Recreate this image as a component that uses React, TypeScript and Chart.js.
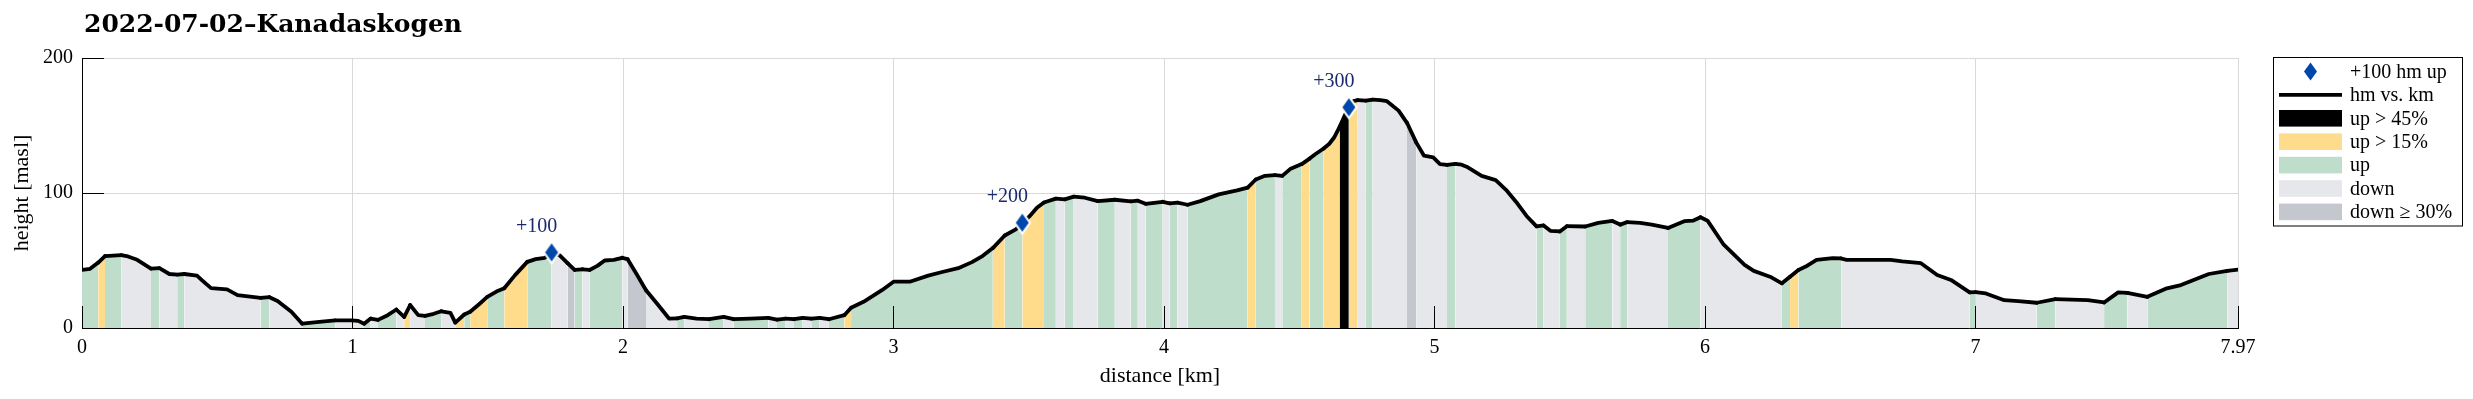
import { useEffect, useRef } from 'react';
import { Chart, registerables } from 'chart.js';

Chart.register(...registerables);

// ---------- data ----------
const distanceKm = [
  0.000, 0.030, 0.060, 0.085, 0.115, 0.145, 0.170, 0.204, 0.255, 0.286,
  0.323, 0.352, 0.378, 0.425, 0.443, 0.477, 0.536, 0.575, 0.660, 0.693,
  0.723, 0.774, 0.814, 0.877, 0.936, 0.996, 1.021, 1.043, 1.067, 1.094,
  1.130, 1.162, 1.191, 1.213, 1.243, 1.268, 1.300, 1.328, 1.362, 1.380,
  1.413, 1.435, 1.470, 1.498, 1.532, 1.561, 1.600, 1.646, 1.677, 1.711,
  1.736, 1.765, 1.795, 1.821, 1.850, 1.876, 1.905, 1.932, 1.966, 1.997,
  2.017, 2.050, 2.085, 2.130, 2.170, 2.200, 2.226, 2.272, 2.318, 2.372,
  2.409, 2.470, 2.537, 2.569, 2.601, 2.632, 2.664, 2.696, 2.727, 2.761,
  2.818, 2.843, 2.889, 2.957, 3.000, 3.060, 3.128, 3.180, 3.239, 3.290,
  3.330, 3.367, 3.411, 3.452, 3.476, 3.503, 3.530, 3.556, 3.600, 3.633,
  3.666, 3.707, 3.755, 3.818, 3.877, 3.903, 3.932, 3.995, 4.021, 4.050,
  4.087, 4.134, 4.202, 4.270, 4.309, 4.339, 4.373, 4.410, 4.437, 4.466,
  4.509, 4.538, 4.560, 4.590, 4.611, 4.630, 4.649, 4.683, 4.700, 4.716,
  4.746, 4.771, 4.800, 4.824, 4.867, 4.898, 4.932, 4.961, 4.995, 5.020,
  5.046, 5.077, 5.100, 5.123, 5.174, 5.226, 5.268, 5.307, 5.340, 5.377,
  5.403, 5.428, 5.463, 5.489, 5.557, 5.605, 5.657, 5.686, 5.712, 5.760,
  5.803, 5.863, 5.923, 5.957, 5.983, 6.009, 6.069, 6.146, 6.180, 6.240,
  6.284, 6.314, 6.345, 6.372, 6.412, 6.472, 6.503, 6.523, 6.686, 6.729,
  6.798, 6.858, 6.909, 6.978, 7.000, 7.038, 7.106, 7.158, 7.226, 7.295,
  7.415, 7.475, 7.527, 7.561, 7.635, 7.707, 7.759, 7.862, 7.930, 7.970,
];

const heightM = [
  43.0, 43.8, 48.5, 53.3, 53.6, 54.0, 53.0, 50.5, 44.0, 44.3,
  40.0, 39.6, 40.0, 38.8, 35.5, 29.5, 28.6, 24.4, 22.3, 22.8,
  20.0, 12.0, 3.2, 4.5, 5.7, 5.6, 5.3, 3.2, 7.0, 6.0,
  9.5, 13.7, 8.2, 17.0, 9.5, 9.0, 10.5, 12.4, 11.2, 4.0,
  10.0, 12.0, 18.0, 23.0, 27.0, 29.5, 39.0, 49.0, 51.0, 52.0,
  55.5, 54.0, 48.0, 43.0, 43.5, 43.0, 46.0, 50.0, 50.5, 52.0,
  51.0, 40.0, 28.0, 17.0, 7.0, 7.2, 8.2, 7.0, 6.5, 8.2,
  6.5, 7.0, 7.5, 6.2, 7.0, 6.5, 7.5, 7.0, 7.5, 6.5,
  9.5, 15.0, 19.4, 28.0, 34.3, 34.3, 38.8, 41.5, 44.3, 48.8,
  53.5, 59.2, 68.5, 73.0, 77.5, 82.8, 89.0, 93.0, 95.8, 95.3,
  97.3, 96.5, 94.0, 95.0, 93.8, 94.3, 92.0, 93.5, 92.3, 92.8,
  91.3, 94.0, 99.0, 102.0, 104.0, 110.0, 112.7, 113.2, 112.7, 117.7,
  121.4, 125.5, 128.9, 133.0, 136.5, 141.5, 149.0, 164.0, 168.0, 168.8,
  168.4, 169.2, 168.8, 168.0, 161.0, 152.0, 137.5, 127.6, 126.4, 121.4,
  120.8, 121.6, 121.0, 119.0, 112.7, 109.5, 101.5, 92.0, 83.0, 75.3,
  76.0, 72.0, 71.5, 75.4, 75.2, 77.9, 79.3, 76.6, 78.4, 77.9,
  76.6, 74.1, 79.1, 79.6, 82.0, 79.5, 61.7, 46.8, 42.3, 38.0,
  33.1, 38.0, 43.0, 45.5, 50.5, 51.7, 51.5, 50.5, 50.5, 49.3,
  48.0, 39.3, 35.6, 26.4, 26.6, 25.6, 20.6, 19.9, 18.7, 21.4,
  20.6, 18.9, 26.4, 26.0, 23.1, 29.4, 31.8, 40.0, 42.3, 43.2,
];

// slope class of the segment that starts at each point (point i -> i+1):
// u = up, y = up > 15%, b = up > 45%, d = down, s = down >= 30%
const slopeClass = [
  'u', 'u', 'y', 'u', 'u', 'd', 'd', 'd', 'u', 'd',
  'd', 'u', 'd', 'd', 'd', 'd', 'd', 'd', 'u', 'd',
  'd', 'd', 'u', 'u', 'd', 'd', 'd', 'u', 'd', 'u',
  'u', 'd', 'y', 'd', 'd', 'u', 'u', 'd', 'd', 'y',
  'u', 'y', 'y', 'u', 'u', 'y', 'y', 'u', 'u', 'u',
  'd', 'd', 's', 'u', 'd', 'u', 'u', 'u', 'u', 'd',
  's', 's', 'd', 'd', 'd', 'u', 'd', 'd', 'u', 'd',
  'u', 'u', 'd', 'u', 'd', 'u', 'd', 'u', 'd', 'u',
  'y', 'u', 'u', 'u', 'u', 'u', 'u', 'u', 'u', 'u',
  'u', 'y', 'u', 'u', 'y', 'y', 'y', 'u', 'd', 'u',
  'd', 'd', 'u', 'd', 'u', 'd', 'u', 'd', 'u', 'd',
  'u', 'u', 'u', 'u', 'y', 'u', 'u', 'd', 'u', 'u',
  'y', 'u', 'u', 'y', 'y', 'y', 'b', 'y', 'y', 'd',
  'u', 'd', 'd', 'd', 'd', 's', 'd', 'd', 'd', 'd',
  'u', 'd', 'd', 'd', 'd', 'd', 'd', 'd', 'd', 'u',
  'd', 'd', 'u', 'd', 'u', 'u', 'd', 'u', 'd', 'd',
  'd', 'u', 'u', 'u', 'd', 'd', 'd', 'd', 'd', 'd',
  'u', 'y', 'u', 'u', 'u', 'u', 'd', 'd', 'd', 'd',
  'd', 'd', 'd', 'u', 'd', 'd', 'd', 'd', 'u', 'd',
  'd', 'u', 'u', 'd', 'u', 'u', 'u', 'u', 'd', 'd',
];

const markerKm = [1.736, 3.476, 4.683];
const markerHeight = [56, 78, 163.5];
const markerLabels = ['+100', '+200', '+300'];

const xTickValues = [0, 1, 2, 3, 4, 5, 6, 7, 7.97];
const yTickValues = [0, 100, 200];

const titleText = '2022-07-02\u2013Kanadaskogen';
const xTitle = 'distance [km]';
const yTitle = 'height [masl]';

const legendLabels = ['+100 hm up', 'hm vs. km', 'up > 45%', 'up > 15%', 'up', 'down', 'down \u2265 30%'];
const legendKinds = ['marker', 'line', 'b', 'y', 'u', 'd', 's'];

// ---------- styles ----------
const classColor: Record<string, string> = {
  b: '#000000',
  y: '#FFDB8C',
  u: '#BFDDCB',
  d: '#E6E7EA',
  s: '#C5C7CF',
};
const markerBlue = '#0047AB';
const labelNavy = '#1A2A6C';
const gridColor = '#d9d9d9';
const SERIF = '"Liberation Serif", "Times New Roman", serif';
const TICK_LEN = 22;

function alignPx(p: number) {
  return Math.round(p - 0.5) + 0.5;
}

function diamondPath(ctx: CanvasRenderingContext2D, cx: number, cy: number, a: number, b: number) {
  ctx.beginPath();
  ctx.moveTo(cx, cy - b);
  ctx.lineTo(cx + a, cy);
  ctx.lineTo(cx, cy + b);
  ctx.lineTo(cx - a, cy);
  ctx.closePath();
}

function makeDiamond(): HTMLCanvasElement {
  const c = document.createElement('canvas');
  c.width = 20;
  c.height = 28;
  const g = c.getContext('2d')!;
  diamondPath(g, 10, 14, 9, 12.6);
  g.fillStyle = '#ffffff';
  g.fill();
  diamondPath(g, 10, 14, 6.5, 9);
  g.fillStyle = markerBlue;
  g.fill();
  return c;
}

const decorPlugin = {
  id: 'decor',
  afterDraw(chart: any) {
    const { ctx, chartArea, scales } = chart;
    const xs = scales.x;
    const ys = scales.y;
    ctx.save();

    // inward tick marks
    ctx.strokeStyle = '#000';
    ctx.lineWidth = 1;
    ctx.beginPath();
    xTickValues.forEach((v) => {
      const px = alignPx(xs.getPixelForValue(v));
      ctx.moveTo(px, chartArea.bottom);
      ctx.lineTo(px, chartArea.bottom - TICK_LEN);
    });
    yTickValues.forEach((v) => {
      const py = alignPx(ys.getPixelForValue(v));
      ctx.moveTo(chartArea.left, py);
      ctx.lineTo(chartArea.left + TICK_LEN, py);
    });
    ctx.stroke();

    // marker labels
    ctx.fillStyle = labelNavy;
    ctx.font = `20px ${SERIF}`;
    ctx.textAlign = 'center';
    ctx.textBaseline = 'middle';
    markerKm.forEach((km, i) => {
      const px = xs.getPixelForValue(km);
      const py = ys.getPixelForValue(markerHeight[i]);
      ctx.fillText(markerLabels[i], px - 15, py - 26);
    });

    // title
    ctx.fillStyle = '#000';
    ctx.font = `bold 25px "DejaVu Serif", serif`;
    ctx.textAlign = 'left';
    ctx.textBaseline = 'alphabetic';
    ctx.fillText(titleText, 84, 32);

    // legend
    const bx = 2273.5, by = 57.5, bw = 189, bh = 168.5;
    ctx.fillStyle = '#fff';
    ctx.fillRect(bx, by, bw, bh);
    ctx.strokeStyle = '#000';
    ctx.lineWidth = 1;
    ctx.strokeRect(bx, by, bw, bh);
    const sx0 = 2279, sx1 = 2342;
    ctx.font = `20px ${SERIF}`;
    ctx.textBaseline = 'middle';
    legendLabels.forEach((lab, i) => {
      const cy = 71.5 + 23.4 * i;
      const kind = legendKinds[i];
      if (kind === 'marker') {
        diamondPath(ctx, (sx0 + sx1) / 2, cy, 6.5, 9);
        ctx.fillStyle = markerBlue;
        ctx.fill();
      } else if (kind === 'line') {
        ctx.strokeStyle = '#000';
        ctx.lineWidth = 3.8;
        ctx.beginPath();
        ctx.moveTo(sx0, cy);
        ctx.lineTo(sx1, cy);
        ctx.stroke();
      } else {
        ctx.fillStyle = classColor[kind];
        ctx.fillRect(sx0, cy - 8.3, sx1 - sx0, 16.6);
      }
      ctx.fillStyle = '#000';
      ctx.fillText(lab, 2350, cy + 1);
    });

    ctx.restore();
  },
};

export default function App() {
  const canvasRef = useRef<HTMLCanvasElement | null>(null);

  useEffect(() => {
    const canvas = canvasRef.current;
    if (!canvas) return;
    const profile = distanceKm.map((x, i) => ({ x, y: heightM[i] }));
    const markers = markerKm.map((x, i) => ({ x, y: markerHeight[i] }));
    const tickFont = { family: SERIF, size: 20 };
    const titleFont = { family: SERIF, size: 22 };

    const chart = new Chart(canvas, {
      type: 'line',
      data: {
        datasets: [
          {
            label: legendLabels[0],
            data: markers,
            showLine: false,
            pointStyle: makeDiamond() as any,
            pointRadius: 10,
            order: 0,
          },
          {
            label: legendLabels[1],
            data: profile,
            borderColor: '#000',
            borderWidth: 3.8,
            borderJoinStyle: 'round',
            borderCapStyle: 'round',
            pointRadius: 0,
            tension: 0,
            fill: 'origin',
            backgroundColor: classColor.u,
            segment: {
              backgroundColor: (ctx: any) => classColor[slopeClass[ctx.p0DataIndex]] || classColor.d,
            },
            order: 1,
          } as any,
        ],
      },
      options: {
        animation: false,
        responsive: false,
        devicePixelRatio: 1,
        events: [],
        layout: { padding: { left: 0, right: 235, top: 58, bottom: 0 } },
        plugins: {
          legend: { display: false },
          tooltip: { enabled: false },
          title: { display: false },
        },
        scales: {
          x: {
            type: 'linear',
            min: 0,
            max: 7.97,
            afterBuildTicks: (s: any) => {
              s.ticks = xTickValues.map((v) => ({ value: v }));
            },
            afterFit: (s: any) => {
              s.height = 71;
            },
            grid: { color: gridColor, lineWidth: 1, drawTicks: false },
            border: { color: '#000', width: 1 },
            ticks: {
              padding: 8,
              color: '#000',
              font: tickFont,
              autoSkip: false,
              maxRotation: 0,
              callback: (v: any) => String(v),
            },
            title: {
              display: true,
              text: xTitle,
              color: '#000',
              font: titleFont,
              padding: { top: 0, bottom: 10 },
            },
          },
          y: {
            type: 'linear',
            min: 0,
            max: 200,
            afterBuildTicks: (s: any) => {
              s.ticks = yTickValues.map((v) => ({ value: v }));
            },
            afterFit: (s: any) => {
              s.width = 82;
            },
            grid: { color: gridColor, lineWidth: 1, drawTicks: false },
            border: { color: '#000', width: 1 },
            ticks: {
              padding: 9,
              color: '#000',
              font: tickFont,
              callback: (v: any) => String(v),
            },
            title: {
              display: true,
              text: yTitle,
              color: '#000',
              font: titleFont,
              padding: { top: 9, bottom: 0 },
            },
          },
        },
      } as any,
      plugins: [decorPlugin],
    });

    return () => {
      chart.destroy();
    };
  }, []);

  return (
    <div style={{ position: 'absolute', left: 0, top: 0, width: 2473, height: 399, background: '#fff' }}>
      <canvas ref={canvasRef} width={2473} height={399} style={{ display: 'block', width: 2473, height: 399 }} />
    </div>
  );
}
